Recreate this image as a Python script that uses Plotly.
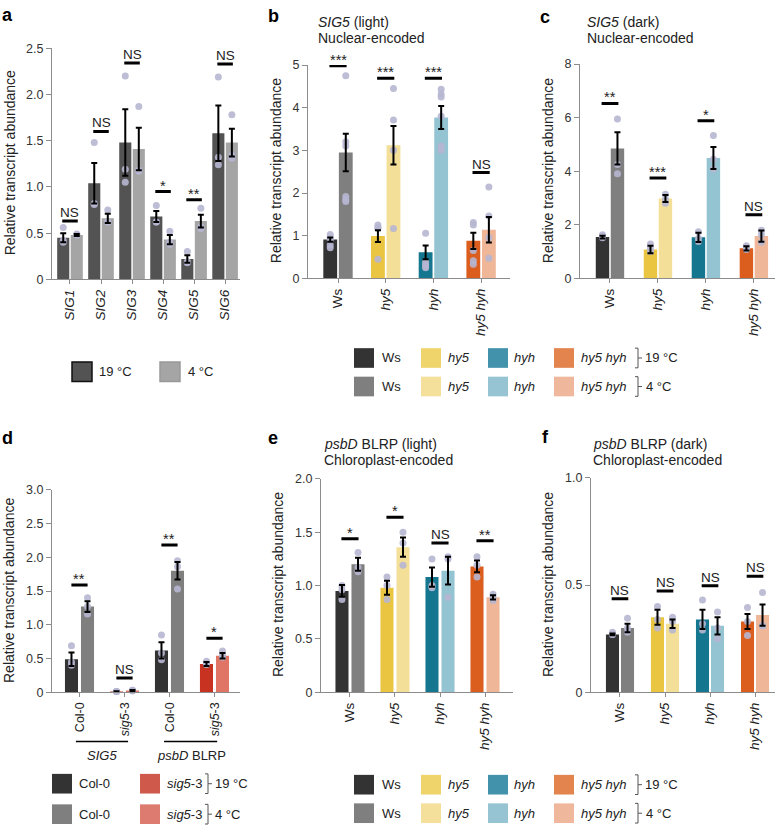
import numpy as np
import plotly.graph_objects as go

W, H = 782, 832
FONT = "Liberation Sans, Arial, Helvetica, sans-serif"


def fx(p):
    return p / W


def fy(p):
    return 1 - p / H


# ---------------- DATA ----------------
# Panel a
a_genes = ["<i>SIG1</i>", "<i>SIG2</i>", "<i>SIG3</i>", "<i>SIG4</i>", "<i>SIG5</i>", "<i>SIG6</i>"]
a_mean_19 = [0.45, 1.04, 1.48, 0.68, 0.22, 1.58]
a_err_19 = [0.05, 0.22, 0.36, 0.06, 0.04, 0.30]
a_mean_4 = [0.48, 0.66, 1.41, 0.43, 0.63, 1.48]
a_err_4 = [0.01, 0.05, 0.23, 0.05, 0.07, 0.15]
a_pts_19 = [[0.56, 0.40, 0.42], [1.48, 0.82, 0.81], [2.20, 1.19, 1.05],
            [0.80, 0.62, 0.62], [0.30, 0.19, 0.18], [2.19, 1.32, 1.24]]
a_pts_4 = [[0.49, 0.48, 0.48], [0.75, 0.62, 0.62], [1.87, 1.17, 1.18],
           [0.52, 0.38, 0.40], [0.77, 0.57, 0.55], [1.78, 1.31, 1.34]]
a_sig = ["NS", "NS", "NS", "*", "**", "NS"]
a_sig_y = [0.63, 1.60, 2.34, 0.95, 0.86, 2.33]

# Genotype panels
geno_ticks = ["Ws", "<i>hy5</i>", "<i>hyh</i>", "<i>hy5 hyh</i>"]

# Panel b: SIG5 (light)
b_mean_19 = [0.91, 0.99, 0.61, 0.88]
b_err_19 = [0.05, 0.14, 0.16, 0.19]
b_mean_4 = [2.95, 3.12, 3.77, 1.14]
b_err_4 = [0.44, 0.45, 0.27, 0.30]
b_pts_19 = [[1.03, 0.95, 0.90, 0.78, 0.72], [1.25, 1.19, 1.17, 0.45],
            [1.06, 0.38, 0.33, 0.28, 0.25], [1.31, 1.25, 0.65, 0.41, 0.33]]
b_pts_4 = [[4.75, 3.20, 3.10, 1.92, 1.85, 1.80], [4.45, 3.71, 3.00, 1.17],
           [4.43, 4.32, 4.25, 3.80, 3.10, 3.00], [2.14, 1.46, 0.95, 0.47]]
b_sig = ["***", "***", "***", "NS"]
b_sig_y = [4.98, 4.69, 4.69, 2.48]

# Panel c: SIG5 (dark)
c_mean_19 = [1.54, 1.08, 1.53, 1.12]
c_err_19 = [0.05, 0.14, 0.17, 0.08]
c_mean_4 = [4.85, 2.98, 4.49, 1.58]
c_err_4 = [0.60, 0.13, 0.41, 0.21]
c_pts_19 = [[1.63, 1.57, 1.52], [1.28, 1.12, 1.00], [1.74, 1.50, 1.38], [1.22, 1.12, 1.08]]
c_pts_4 = [[5.95, 4.25, 3.90], [3.14, 2.95, 2.80], [5.33, 4.45, 4.08], [1.80, 1.63, 1.35]]
c_sig = ["**", "***", "*", "NS"]
c_sig_y = [6.53, 3.75, 5.88, 2.37]

# Panel d: Col-0 vs sig5-3
d_ticks = ["Col-0", "<i>sig5</i>-3", "Col-0", "<i>sig5</i>-3"]
d_groups = ["<i>SIG5</i>", "<i>psbD</i> BLRP"]
d_mean_19 = [0.49, 0.01, 0.62, 0.42]
d_err_19 = [0.10, 0.005, 0.12, 0.03]
d_mean_4 = [1.27, 0.025, 1.80, 0.54]
d_err_4 = [0.08, 0.01, 0.13, 0.04]
d_pts_19 = [[0.69, 0.45, 0.40], [0.01, 0.01, 0.01], [0.85, 0.58, 0.48], [0.46, 0.42, 0.41]]
d_pts_4 = [[1.40, 1.27, 1.16], [0.03, 0.02, 0.03], [1.95, 1.86, 1.53], [0.61, 0.52, 0.55]]
d_sig = ["**", "NS", "**", "*"]
d_sig_y = [1.59, 0.21, 2.18, 0.80]

# Panel e: psbD BLRP (light)
e_mean_19 = [0.95, 0.98, 1.08, 1.18]
e_err_19 = [0.055, 0.065, 0.09, 0.055]
e_mean_4 = [1.20, 1.36, 1.14, 0.89]
e_err_4 = [0.06, 0.09, 0.13, 0.02]
e_pts_19 = [[1.00, 0.96, 0.87], [1.08, 1.00, 0.87], [1.25, 1.00, 0.98], [1.27, 1.19, 1.08]]
e_pts_4 = [[1.31, 1.17, 1.13], [1.50, 1.40, 1.19], [1.27, 1.25, 0.89], [0.92, 0.89, 0.86]]
e_sig = ["*", "*", "NS", "**"]
e_sig_y = [1.44, 1.64, 1.40, 1.42]

# Panel f: psbD BLRP (dark)
f_mean_19 = [0.27, 0.35, 0.34, 0.33]
f_err_19 = [0.004, 0.035, 0.045, 0.035]
f_mean_4 = [0.30, 0.32, 0.31, 0.36]
f_err_4 = [0.02, 0.02, 0.04, 0.05]
f_pts_19 = [[0.28, 0.27, 0.27], [0.40, 0.34, 0.30], [0.43, 0.32, 0.29], [0.395, 0.33, 0.265]]
f_pts_4 = [[0.345, 0.30, 0.28], [0.35, 0.33, 0.29], [0.375, 0.30, 0.25], [0.465, 0.31, 0.31]]
f_sig = ["NS", "NS", "NS", "NS"]
f_sig_y = [0.436, 0.472, 0.497, 0.541]

# ---------------- STYLE ----------------
A19, A4 = "#535353", "#a5a5a5"
G19 = ["#333333", "#e9c542", "#15778f", "#dc5e1f"]
G4 = ["#7f7f7f", "#f3df97", "#94c3d1", "#efb797"]
L19 = ["#333333", "#efd46c", "#4192aa", "#e3834e"]
L4 = ["#7f7f7f", "#f5e09b", "#96c4d3", "#efb89d"]
D19 = ["#333333", "#c83220", "#333333", "#c83220"]
D4 = ["#7f7f7f", "#e07566", "#7f7f7f", "#e07566"]
PT = "rgba(182,182,210,0.9)"
AXC = "#8c8c8c"
TXT = "#222222"

fig = go.Figure()
layout_axes = {}


def add_panel(k, ticks, m19, e19, p19, m4, e4, p4, col19, col4,
              off, bw, sig, sig_y, hw, xdom, xrng, ydom, ymax, ytv, ytt, xtickfont=13.5):
    xa = "x" if k == 1 else f"x{k}"
    ya = "y" if k == 1 else f"y{k}"
    n = len(ticks)
    idx = np.arange(n)
    x19 = idx - off
    x4 = idx + off
    fig.add_trace(go.Bar(x=x19, y=m19, width=bw, marker=dict(color=col19, line_width=0),
                         xaxis=xa, yaxis=ya, showlegend=False))
    fig.add_trace(go.Bar(x=x4, y=m4, width=bw, marker=dict(color=col4, line_width=0),
                         xaxis=xa, yaxis=ya, showlegend=False))
    for xs, pts in ((x19, p19), (x4, p4)):
        pxs = [xs[i] for i, pp in enumerate(pts) for _ in pp]
        pys = [v for pp in pts for v in pp]
        fig.add_trace(go.Scatter(x=pxs, y=pys, mode="markers",
                                 marker=dict(size=7, color=PT, line_width=0),
                                 xaxis=xa, yaxis=ya, showlegend=False, cliponaxis=False))
    for xs, m, e in ((x19, m19, e19), (x4, m4, e4)):
        fig.add_trace(go.Scatter(x=xs, y=m, mode="markers",
                                 marker=dict(size=1, color="rgba(0,0,0,0)"),
                                 error_y=dict(type="data", array=e, color="black",
                                              thickness=2, width=3),
                                 xaxis=xa, yaxis=ya, showlegend=False))
    for i, (s, yv) in enumerate(zip(sig, sig_y)):
        fig.add_shape(type="line", xref=xa, yref=ya, x0=i - hw, x1=i + hw, y0=yv, y1=yv,
                      line=dict(color="black", width=3))
        fig.add_annotation(xref=xa, yref=ya, x=i, y=yv, text=s, showarrow=False,
                           yanchor="bottom", yshift=(-1 if s == "NS" else -4),
                           font=dict(size=13.5 if s == "NS" else 14.5, color=TXT, family=FONT))
    kx = "xaxis" if k == 1 else f"xaxis{k}"
    ky = "yaxis" if k == 1 else f"yaxis{k}"
    layout_axes[kx] = dict(domain=[fx(xdom[0]), fx(xdom[1])], range=xrng, anchor=ya,
                           tickvals=list(idx), ticktext=ticks, tickangle=-90,
                           ticks="outside", ticklen=4, tickcolor=AXC,
                           showline=True, linecolor=AXC, linewidth=1,
                           showgrid=False, zeroline=False, fixedrange=True,
                           tickfont=dict(size=xtickfont, color=TXT, family=FONT))
    layout_axes[ky] = dict(domain=[fy(ydom[0]), fy(ydom[1])], range=[0, ymax], anchor=xa,
                           tickvals=ytv, ticktext=ytt,
                           ticks="outside", ticklen=5, tickcolor=AXC,
                           showline=True, linecolor=AXC, linewidth=1,
                           showgrid=False, zeroline=False, fixedrange=True,
                           tickfont=dict(size=12.5, color="#333333", family=FONT))


add_panel(1, a_genes, a_mean_19, a_err_19, a_pts_19, a_mean_4, a_err_4, a_pts_4,
          A19, A4, 0.218, 0.39, a_sig, a_sig_y, 0.25,
          (52, 240), [-0.58, 5.48], (277, 42), 2.5,
          [0, 0.5, 1, 1.5, 2, 2.5], ["0", "0.5", "1.0", "1.5", "2.0", "2.5"])
add_panel(2, geno_ticks, b_mean_19, b_err_19, b_pts_19, b_mean_4, b_err_4, b_pts_4,
          G19, G4, 0.163, 0.29, b_sig, b_sig_y, 0.18,
          (308, 510), [-0.629, 3.606], (276, 59), 5,
          [0, 1, 2, 3, 4, 5], ["0", "1", "2", "3", "4", "5"])
add_panel(3, geno_ticks, c_mean_19, c_err_19, c_pts_19, c_mean_4, c_err_4, c_pts_4,
          G19, G4, 0.156, 0.28, c_sig, c_sig_y, 0.175,
          (580, 775), [-0.625, 3.44], (276, 58), 8,
          [0, 2, 4, 6, 8], ["0", "2", "4", "6", "8"])
add_panel(4, d_ticks, d_mean_19, d_err_19, d_pts_19, d_mean_4, d_err_4, d_pts_4,
          D19, D4, 0.178, 0.29, d_sig, d_sig_y, 0.18,
          (52, 240), [-0.611, 3.567], (697, 491), 3,
          [0, 0.5, 1, 1.5, 2, 2.5, 3], ["0", "0.5", "1.0", "1.5", "2.0", "2.5", "3.0"],
          xtickfont=12.5)
add_panel(5, geno_ticks, e_mean_19, e_err_19, e_pts_19, e_mean_4, e_err_4, e_pts_4,
          G19, G4, 0.178, 0.29, e_sig, e_sig_y, 0.19,
          (321, 513), [-0.644, 3.622], (697, 480), 2,
          [0, 0.5, 1, 1.5, 2], ["0", "0.5", "1.0", "1.5", "2.0"])
add_panel(6, geno_ticks, f_mean_19, f_err_19, f_pts_19, f_mean_4, f_err_4, f_pts_4,
          G19, G4, 0.167, 0.29, f_sig, f_sig_y, 0.185,
          (591, 775), [-0.644, 3.444], (697, 479), 1,
          [0, 0.5, 1], ["0", "0.5", "1.0"])


def text(x, y, s, size=13, xanchor="left", angle=0, bold=False, color=TXT, pad=1):
    fig.add_annotation(xref="paper", yref="paper", x=fx(x), y=fy(y), text=(f"<b>{s}</b>" if bold else s),
                       showarrow=False, xanchor=xanchor, yanchor="middle", textangle=angle,
                       borderpad=pad, font=dict(size=size, color=color, family=FONT))


# panel letters
for lx, ly, lt in ((0, 8, "a"), (266, 9, "b"), (538, 10, "c"),
                   (0, 438, "d"), (266, 438, "e"), (540, 437, "f")):
    text(lx, ly, lt, size=18, bold=True, color="black")

# y titles
for cx, cy in ((10, 159), (276, 167), (548, 167), (9, 594), (278, 588), (548, 588)):
    text(cx, cy, "Relative transcript abundance", size=14, xanchor="center", angle=-90)

# panel titles
text(317, 15.5, "<i>SIG5</i> (light)", size=14, pad=0)
text(317, 31.5, "Nuclear-encoded", size=14, pad=0)
text(586, 15.5, "<i>SIG5</i> (dark)", size=14, pad=0)
text(586, 31.5, "Nuclear-encoded", size=14, pad=0)
text(323, 444, "<i>psbD</i> BLRP (light)", size=14, pad=0)
text(323, 460.5, "Chloroplast-encoded", size=14, pad=0)
text(592, 444, "<i>psbD</i> BLRP (dark)", size=14, pad=0)
text(592, 460.5, "Chloroplast-encoded", size=14, pad=0)

# panel d group labels
for (g0, g1), gl, gc in (((-0.08, 1.08), d_groups[0], 0.5), ((1.88, 3.06), d_groups[1], 2.5)):
    fig.add_shape(type="line", xref="x4", yref="paper", x0=g0, x1=g1, y0=fy(747), y1=fy(747),
                  line=dict(color="black", width=1.5))
    fig.add_annotation(xref="x4", yref="paper", x=gc, y=fy(761), text=gl, showarrow=False,
                       yanchor="middle", font=dict(size=13, color=TXT, family=FONT))


def square(x0, y0, color, border=None, size=20):
    fig.add_shape(type="rect", xref="paper", yref="paper", x0=fx(x0), x1=fx(x0 + size),
                  y0=fy(y0 + size), y1=fy(y0), fillcolor=color,
                  line=dict(color=border if border else color, width=1.5 if border else 0))


def bracket(x, ytop, ybot):
    ym = (ytop + ybot) / 2
    path = (f"M {fx(x - 3)},{fy(ytop)} L {fx(x)},{fy(ytop)} L {fx(x)},{fy(ybot)} "
            f"L {fx(x - 3)},{fy(ybot)} M {fx(x)},{fy(ym)} L {fx(x + 4)},{fy(ym)}")
    fig.add_shape(type="path", xref="paper", yref="paper", path=path,
                  line=dict(color="#555555", width=1))


# legend a
square(72, 361, A19, border="#111111")
text(97, 371, "19 °C")
square(160, 361, A4, border="#999999")
text(186, 371, "4 °C")

# legends b/c and e/f
leg_names = ["Ws", "<i>hy5</i>", "<i>hyh</i>", "<i>hy5 hyh</i>"]
sq_x = [354, 421, 488, 554]
tx_x = [380, 446, 512, 579]
for r1, r2 in ((347, 376), (781, 810)):
    for i in range(4):
        square(sq_x[i], r1, L19[i])
        text(tx_x[i], r1 + 10, leg_names[i])
        square(sq_x[i], r2, L4[i])
        text(tx_x[i], r2 + 10, leg_names[i])
    bracket(638, r1, r1 + 20)
    text(643, r1 + 10, "19 °C")
    bracket(638, r2, r2 + 20)
    text(644, r2 + 10, "4 °C")

# legend d
square(52, 780, "#333333")
text(77, 790, "Col-0")
square(140, 780, "#cf5a4b")
text(165, 790, "<i>sig5</i>-3")
bracket(208, 780, 800)
text(213, 790, "19 °C")
square(52, 811, "#7f7f7f")
text(77, 821, "Col-0")
square(140, 811, "#dd7b70")
text(165, 821, "<i>sig5</i>-3")
bracket(208, 811, 831)
text(213, 821, "4 °C")

fig.update_layout(width=W, height=H, margin=dict(l=0, r=0, t=0, b=0),
                  paper_bgcolor="white", plot_bgcolor="white",
                  barmode="overlay", showlegend=False, hovermode=False,
                  font=dict(family=FONT, color=TXT), **layout_axes)

fig.write_html("out.html", config={"displayModeBar": False, "staticPlot": True},
               post_script="document.body.style.margin='0';document.body.style.overflow='hidden';")
